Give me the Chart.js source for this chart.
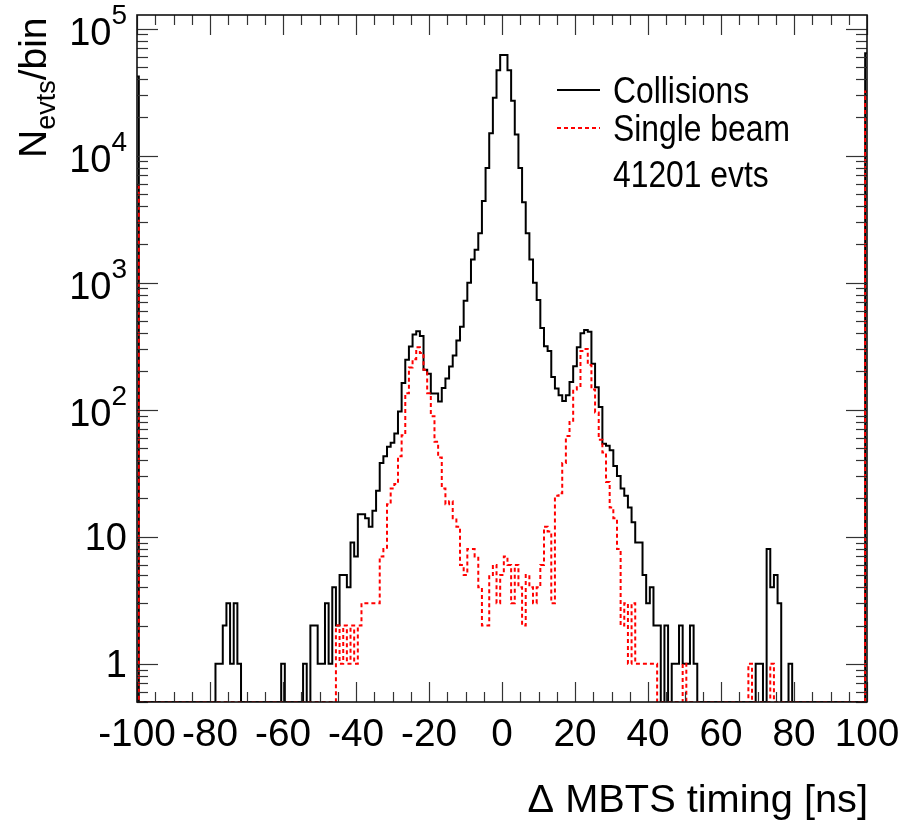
<!DOCTYPE html>
<html>
<head>
<meta charset="utf-8">
<script src="https://cdn.jsdelivr.net/npm/chart.js@4.4.1/dist/chart.umd.min.js"></script>
<style>
html, body { margin: 0; padding: 0; background: #fff; }
</style>
</head>
<body>
<canvas id="mycanvas" width="904" height="822"></canvas>
<script>
// 1 ns bins centred on integers, -100 .. 100 (edge bins half clipped by the frame)
var binLow = -100, binHigh = 100;

// Collisions, counts per bin, t = -100 .. 100 (rows of 10)
var collisions = [
  42000, 0, 0, 0, 0, 0, 0, 0, 0, 0,
  0, 0, 0, 0, 0, 0, 0, 0, 0, 0,
  0, 0, 1, 1, 2, 3, 1, 3, 1, 0,
  0, 0, 0, 0, 0, 0, 0, 0, 0, 0,
  1, 0, 0, 0, 0, 0, 1, 0, 2, 2,
  1, 1, 3, 1, 4, 2, 5, 5, 4, 9,
  7, 15, 15, 14, 12, 16, 23, 38, 43, 51,
  55, 65, 97, 162, 247, 315, 390, 415, 380, 206,
  192, 134, 134, 116, 148, 176, 219, 267, 350, 450,
  720, 1000, 1520, 1820, 2450, 4400, 8000, 15000, 28500, 47000,
  62000, 62000, 47000, 27000, 14700, 8000, 4300, 2450, 1520, 1000,
  730, 440, 316, 290, 181, 147, 130, 117, 130, 165,
  220, 310, 400, 425, 410, 230, 150, 105, 54, 52,
  48, 36, 30, 24, 21, 17, 13, 9, 9, 5,
  3, 4, 2, 2, 0, 2, 0, 1, 1, 2,
  1, 1, 2, 1, 0, 0, 0, 0, 0, 0,
  0, 0, 0, 0, 0, 0, 0, 0, 0, 0,
  1, 1, 0, 8, 4, 5, 3, 0, 0, 1,
  0, 0, 0, 0, 0, 0, 0, 0, 0, 0,
  0, 0, 0, 0, 0, 0, 0, 0, 0, 0,
  64000
];

// Single beam, counts per bin, t = -100 .. 100
var singleBeam = [
  5700, 0, 0, 0, 0, 0, 0, 0, 0, 0,
  0, 0, 0, 0, 0, 0, 0, 0, 0, 0,
  0, 0, 0, 0, 0, 0, 0, 0, 0, 0,
  0, 0, 0, 0, 0, 0, 0, 0, 0, 0,
  0, 0, 0, 0, 0, 0, 0, 0, 0, 0,
  0, 0, 0, 0, 0, 2, 1, 2, 1, 2,
  1, 2, 3, 3, 3, 3, 3, 7, 8, 18,
  24, 26, 43, 63, 135, 215, 250, 310, 280, 206,
  135, 89, 56, 42, 24, 18, 19, 14, 12, 6,
  5, 8, 8, 7, 4, 2, 2, 5, 6, 3,
  5, 7, 6, 3, 6, 4, 2, 5, 4, 3,
  4, 6, 12, 11, 3, 21, 22, 38, 62, 80,
  144, 150, 290, 300, 225, 144, 95, 58, 46, 27,
  17, 14, 8, 2, 3, 1, 3, 1, 1, 1,
  1, 1, 1, 0, 0, 0, 0, 0, 0, 0,
  1, 0, 0, 0, 0, 0, 0, 0, 0, 0,
  0, 0, 0, 0, 0, 0, 0, 0, 1, 0,
  0, 0, 0, 0, 1, 0, 0, 0, 0, 0,
  0, 0, 0, 0, 0, 0, 0, 0, 0, 0,
  0, 0, 0, 0, 0, 0, 0, 0, 0, 0,
  32000
];

var xTickLabels = ['-100', '-80', '-60', '-40', '-20', '0', '20', '40', '60', '80', '100'];
var yTickExponents = [0, 1, 2, 3, 4, 5];
var legendLabels = ['Collisions', 'Single beam', '41201 evts'];

var yMin = 0.5, yMax = 1.28e5;
var FONT = '"Liberation Sans", Arial, Helvetica, sans-serif';

function toPoints(counts) {
  var pts = [];
  for (var i = 0; i < counts.length; i++) {
    pts.push({ x: binLow + i, y: counts[i] > 0 ? counts[i] : yMin });
  }
  return pts;
}

function text(ctx, s, x, y, size, align, sx) {
  ctx.save();
  ctx.font = size + 'px ' + FONT;
  ctx.textAlign = align || 'left';
  ctx.textBaseline = 'alphabetic';
  ctx.translate(x, y);
  ctx.scale(sx || 1, 1);
  ctx.fillText(s, 0, 0);
  ctx.restore();
}
function textWidth(ctx, s, size, sx) {
  ctx.save();
  ctx.font = size + 'px ' + FONT;
  var w = ctx.measureText(s).width * (sx || 1);
  ctx.restore();
  return w;
}
function seg(ctx, x1, y1, x2, y2) {
  ctx.beginPath(); ctx.moveTo(x1, y1); ctx.lineTo(x2, y2); ctx.stroke();
}

var rootFrame = {
  id: 'rootFrame',
  afterDatasetsDraw: function(chart) {
    var ctx = chart.ctx, a = chart.chartArea;
    var xs = chart.scales.x, ys = chart.scales.y;
    ctx.save();
    ctx.fillStyle = '#000';
    ctx.strokeStyle = '#333';
    ctx.lineWidth = 1.2;

    // x ticks, inward on bottom and top
    for (var v = binLow; v <= binHigh; v += 5) {
      var px = Math.round(xs.getPixelForValue(v)) + 0.5;
      var len = (v % 20 === 0) ? 20 : 10;
      seg(ctx, px, a.bottom, px, a.bottom - len);
      seg(ctx, px, a.top, px, a.top + len);
    }
    // y ticks, inward on left and right
    for (var d = -1; d <= 5; d++) {
      for (var m = 1; m <= 9; m++) {
        var val = m * Math.pow(10, d);
        if (val < yMin || val > yMax) continue;
        var py = Math.round(ys.getPixelForValue(val)) + 0.5;
        var l = (m === 1) ? 21 : 11;
        seg(ctx, a.left, py, a.left + l, py);
        seg(ctx, a.right, py, a.right - l, py);
      }
    }
    // frame
    ctx.lineWidth = 1.6;
    ctx.strokeStyle = '#111';
    ctx.strokeRect(a.left, a.top, a.right - a.left, a.bottom - a.top);

    // x tick labels
    for (var i = 0; i < xTickLabels.length; i++) {
      var xv = parseFloat(xTickLabels[i]);
      text(ctx, xTickLabels[i], xs.getPixelForValue(xv), 746, 38, 'center', 1.02);
    }
    // y tick labels, right aligned
    var right = 127;
    for (var k = 0; k < yTickExponents.length; k++) {
      var e = yTickExponents[k];
      var ty = ys.getPixelForValue(Math.pow(10, e));
      if (e === 0) {
        text(ctx, '1', right, ty + 13, 38, 'right');
      } else if (e === 1) {
        text(ctx, '10', right, ty + 13, 38, 'right');
      } else {
        var sw = textWidth(ctx, String(e), 28);
        text(ctx, String(e), right - sw, ty - 5, 28, 'left');
        text(ctx, '10', right - sw, ty + 16, 38, 'right');
      }
    }

    // axis titles
    text(ctx, '\u0394 MBTS timing [ns]', 868, 812, 39, 'right', 1.02);
    ctx.save();
    ctx.translate(46, 158);
    ctx.rotate(-Math.PI / 2);
    ctx.font = '39px ' + FONT;
    var wN = ctx.measureText('N').width;
    ctx.fillText('N', 0, 0);
    ctx.font = '27px ' + FONT;
    var wE = ctx.measureText('evts').width;
    ctx.fillText('evts', wN, 9);
    ctx.font = '39px ' + FONT;
    ctx.fillText('/bin', wN + wE, 0);
    ctx.restore();

    // legend
    ctx.lineWidth = 2;
    ctx.strokeStyle = '#000';
    seg(ctx, 557, 90, 600, 90);
    ctx.strokeStyle = '#ff0000';
    ctx.setLineDash([4, 3]);
    seg(ctx, 557, 128, 600, 128);
    ctx.setLineDash([]);
    text(ctx, legendLabels[0], 613, 103, 37, 'left', 0.86);
    text(ctx, legendLabels[1], 613, 141, 37, 'left', 0.86);
    text(ctx, legendLabels[2], 613, 187, 37, 'left', 0.86);
    ctx.restore();
  }
};

var ctx = document.getElementById('mycanvas').getContext('2d');
var chart = new Chart(ctx, {
  type: 'line',
  data: {
    datasets: [
      {
        label: 'Single beam',
        data: toPoints(singleBeam),
        stepped: 'middle',
        borderColor: '#ff0000',
        borderWidth: 2,
        borderDash: [4, 3],
        pointRadius: 0,
        fill: false
      },
      {
        label: 'Collisions',
        data: toPoints(collisions),
        stepped: 'middle',
        borderColor: '#000000',
        borderWidth: 2,
        pointRadius: 0,
        fill: false
      }
    ]
  },
  options: {
    responsive: false,
    animation: false,
    layout: { padding: { left: 137, top: 15, right: 37, bottom: 120 } },
    scales: {
      x: { type: 'linear', min: binLow, max: binHigh, display: false },
      y: { type: 'logarithmic', min: yMin, max: yMax, display: false }
    },
    plugins: {
      legend: { display: false },
      tooltip: { enabled: false }
    }
  },
  plugins: [rootFrame]
});
</script>
</body>
</html>
